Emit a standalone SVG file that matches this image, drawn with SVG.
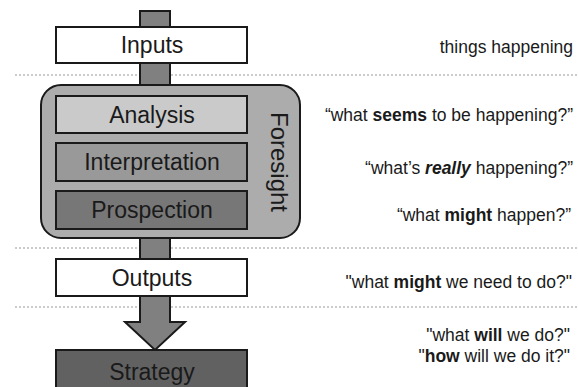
<svg xmlns="http://www.w3.org/2000/svg" width="578" height="387" viewBox="0 0 578 387">
  <style>
    .box { stroke: #1a1a1a; stroke-width: 2; }
    .lbl { font-family: "Liberation Sans", Arial, sans-serif; font-size: 23px; fill: #1a1a1a; text-anchor: middle; }
    .note { font-family: "Liberation Sans", Arial, sans-serif; font-size: 17.5px; fill: #1a1a1a; text-anchor: end; }
    .sep { stroke: #9a9a9a; stroke-width: 1.2; stroke-dasharray: 2 2; }
    .b { font-weight: bold; }
  </style>

  <rect width="578" height="387" fill="#ffffff"/>

  <!-- separators -->
  <g id="separators">
    <line class="sep" x1="15" y1="75" x2="578" y2="75"/>
    <line class="sep" x1="15" y1="248" x2="578" y2="248"/>
    <line class="sep" x1="15" y1="307" x2="578" y2="307"/>
  </g>

  <!-- flow connectors -->
  <g id="connectors">
    <rect class="box" x="140" y="11" width="30" height="80" fill="#808080"/>
    <rect class="box" x="140" y="230" width="30" height="34" fill="#808080"/>
    <path class="box" d="M140 292 L170 292 L170 322 L185 322 L155 350 L125 322 L140 322 Z" fill="#808080" stroke-linejoin="miter"/>
  </g>

  <g id="inputs">
    <rect class="box" x="56" y="27" width="191" height="36" fill="#ffffff"/>
    <text class="lbl" x="152" y="53">Inputs</text>
  </g>

  <g id="foresight">
    <rect class="box" x="41" y="85" width="259" height="153" rx="20" ry="20" fill="#acacac"/>
    <text class="lbl" x="0" y="0" transform="translate(271 162) rotate(90)" style="font-size:24px">Foresight</text>
  </g>

  <g id="analysis">
    <rect class="box" x="56" y="96" width="191" height="37" fill="#cacaca"/>
    <text class="lbl" x="152" y="123">Analysis</text>
  </g>

  <g id="interpretation">
    <rect class="box" x="56" y="143" width="191" height="38" fill="#999999"/>
    <text class="lbl" x="152" y="170">Interpretation</text>
  </g>

  <g id="prospection">
    <rect class="box" x="56" y="191" width="191" height="38" fill="#777777"/>
    <text class="lbl" x="152" y="218">Prospection</text>
  </g>

  <g id="outputs">
    <rect class="box" x="56" y="259" width="191" height="37" fill="#ffffff"/>
    <text class="lbl" x="152" y="286">Outputs</text>
  </g>

  <g id="strategy">
    <rect class="box" x="56" y="350" width="191" height="45" fill="#616161"/>
    <text class="lbl" x="152" y="380">Strategy</text>
  </g>

  <!-- questions on the right -->
  <g id="notes">
    <text class="note" x="573" y="53">things happening</text>
    <text class="note" x="573" y="121">“what <tspan class="b">seems</tspan> to be happening?”</text>
    <text class="note" x="573" y="174">“what’s <tspan class="b" font-style="italic">really</tspan> happening?”</text>
    <text class="note" x="571" y="221">“what <tspan class="b">might</tspan> happen?”</text>
    <text class="note" x="572" y="288">"what <tspan class="b">might</tspan> we need to do?"</text>
    <text class="note" x="570" y="341">"what <tspan class="b">will</tspan> we do?"</text>
    <text class="note" x="570" y="362">"<tspan class="b">how</tspan> will we do it?"</text>
  </g>
</svg>
